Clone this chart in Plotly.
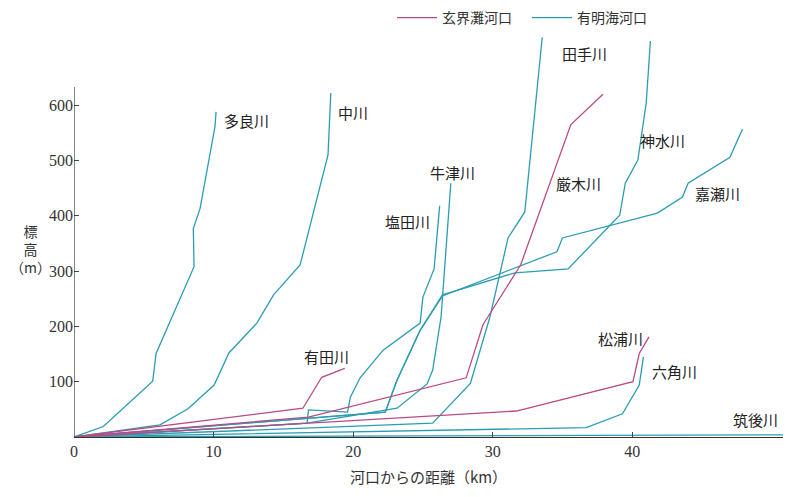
import plotly.graph_objects as go

TEAL = "#2a9db2"
MAGENTA = "#bb4a84"

# 有明海河口 rivers: distance from mouth (km), elevation (m)
tara_x = [0, 2.1, 5.64, 5.88, 8.6, 8.55, 9.03, 10.1, 10.18]
tara_y = [0, 19, 101, 151, 308, 377, 413, 561, 588]

naka_x = [0, 6.16, 8.17, 10.04, 11.1, 13.1, 14.3, 16.2, 18.2, 18.4]
naka_y = [0, 22, 51, 94, 152, 206, 257, 311, 510, 622]

shiota_x = [0, 16.7, 16.8, 19.6, 19.8, 20.5, 22.15, 24.8, 25.0, 25.8, 26.2]
shiota_y = [0, 25, 49, 45, 72, 107, 157, 206, 253, 304, 418]

ushizu_x = [0, 16.7, 23.15, 25.3, 25.7, 26.3, 27.0]
ushizu_y = [0, 25, 52, 96, 121, 217, 459]

kase_x = [0, 22.3, 23.15, 24.8, 26.4, 34.6, 35.0, 38.4, 41.8, 43.6, 44.0, 47.0, 47.9]
kase_y = [0, 45, 103, 193, 255, 335, 360, 383, 405, 434, 459, 506, 557]

tade_x = [0, 25.7, 28.4, 29.8, 31.1, 32.3, 33.55]
tade_y = [0, 25, 97, 217, 360, 407, 723]

shouzu_x = [0, 22.3, 23.15, 24.8, 26.4, 31.6, 35.4, 39.1, 39.5, 40.4, 41.0, 41.3]
shouzu_y = [0, 45, 103, 193, 257, 297, 304, 401, 459, 501, 604, 716]

rokkaku_x = [0, 36.7, 39.3, 40.5, 40.8]
rokkaku_y = [0, 17, 42, 94, 145]

chikugo_x = [0, 50.8]
chikugo_y = [0, 4]

# 玄界灘河口 rivers
arita_x = [0, 16.4, 17.75, 19.4]
arita_y = [0, 52, 108, 124]

kyuragi_x = [0, 16.8, 28.1, 29.3, 32.0, 35.6, 37.9]
kyuragi_y = [0, 36, 107, 203, 311, 565, 620]

matsuura_x = [0, 31.7, 40.05, 40.5, 41.2]
matsuura_y = [0, 47, 100, 151, 181]

teal_rivers = [
    (tara_x, tara_y), (naka_x, naka_y), (shiota_x, shiota_y),
    (ushizu_x, ushizu_y), (kase_x, kase_y), (tade_x, tade_y),
    (shouzu_x, shouzu_y), (rokkaku_x, rokkaku_y), (chikugo_x, chikugo_y),
]
magenta_rivers = [(arita_x, arita_y), (kyuragi_x, kyuragi_y), (matsuura_x, matsuura_y)]

label_names = ["多良川", "中川", "塩田川", "牛津川", "田手川", "厳木川",
               "神水川", "嘉瀬川", "有田川", "松浦川", "六角川", "筑後川"]
label_x = [12.33, 20.0, 23.87, 27.1, 36.56, 36.13, 42.15, 46.1, 18.06, 39.14, 43.0, 48.8]
label_y = [573, 586, 389, 479, 694, 459, 537, 441, 146, 179, 119, 31]

y_ticks = [100, 200, 300, 400, 500, 600]
x_ticks = [0, 10, 20, 30, 40]

fig = go.Figure()

fig.add_trace(go.Scatter(x=[None], y=[None], mode="lines", name="玄界灘河口",
                         line=dict(color=MAGENTA, width=1.3)))
fig.add_trace(go.Scatter(x=[None], y=[None], mode="lines", name="有明海河口",
                         line=dict(color=TEAL, width=1.3)))

for xs, ys in teal_rivers:
    fig.add_trace(go.Scatter(x=xs, y=ys, mode="lines", showlegend=False,
                             line=dict(color=TEAL, width=1.3), hoverinfo="skip"))
for xs, ys in magenta_rivers:
    fig.add_trace(go.Scatter(x=xs, y=ys, mode="lines", showlegend=False,
                             line=dict(color=MAGENTA, width=1.3), hoverinfo="skip"))

for name, lx, ly in zip(label_names, label_x, label_y):
    fig.add_annotation(x=lx, y=ly, text=name, showarrow=False,
                       font=dict(family="Noto Sans CJK JP", size=15, color="#222"))

# y axis line only up to the labelled part
fig.add_shape(type="line", x0=0, x1=0, y0=0, y1=633, xref="x", yref="y",
              line=dict(color="#333", width=1.2))

fig.add_annotation(xref="paper", yref="paper", x=-0.062, y=0.468,
                   xanchor="center", yanchor="middle",
                   text="標<br>高<br>（m）", showarrow=False, align="center",
                   font=dict(family="Noto Sans CJK JP", size=14, color="#333"))

fig.update_layout(
    width=800, height=497,
    margin=dict(l=66, r=25, t=27, b=68),
    plot_bgcolor="white", paper_bgcolor="white",
    legend=dict(orientation="h", xref="container", yref="container",
                x=0.48, y=0.98, xanchor="left", yanchor="middle",
                entrywidth=80, entrywidthmode="pixels",
                font=dict(family="Noto Sans CJK JP", size=14, color="#333"),
                itemwidth=40),
    xaxis=dict(range=[0, 50.8], tickvals=x_ticks, ticks="inside", ticklen=5,
               showline=True, linecolor="#333", linewidth=1.2, showgrid=False,
               zeroline=False, automargin=False,
               tickfont=dict(family="Liberation Serif", size=16, color="#333"),
               title=dict(text="河口からの距離（km）", standoff=13,
                          font=dict(family="Noto Sans CJK JP", size=15, color="#333"))),
    yaxis=dict(range=[0, 727], tickvals=y_ticks, ticks="inside", ticklen=5,
               showline=False, showgrid=False, zeroline=False, automargin=False,
               tickfont=dict(family="Liberation Serif", size=16, color="#333")),
)

fig.write_html("out.html")
